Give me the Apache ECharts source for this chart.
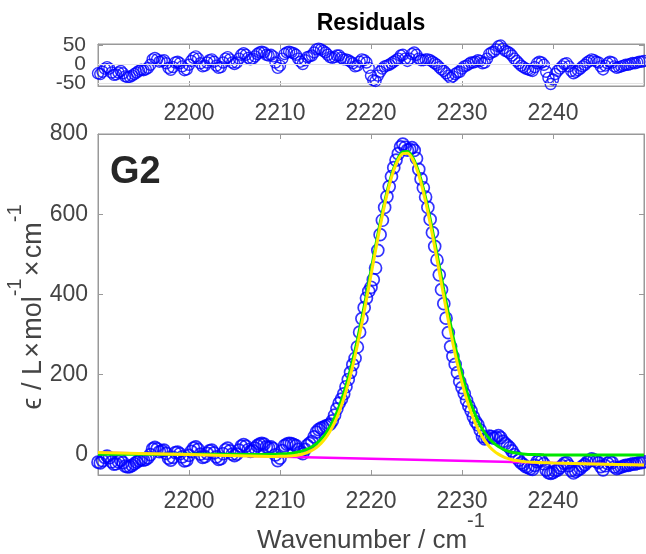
<!DOCTYPE html>
<html><head><meta charset="utf-8">
<script src="https://cdn.jsdelivr.net/npm/echarts@6/dist/echarts.min.js"></script>
<style>html,body{margin:0;padding:0;background:#fff}#c{width:646px;height:554px}</style>
</head><body><div id="c"></div>
<script>
// ---------- data ----------
const xMin = 2190, xMax = 2250;
const xTickValues = [2200, 2210, 2220, 2230, 2240];
const mainYTicks = [0, 200, 400, 600, 800];
const resYTicks = [-50, 0, 50];
const resYOuterLabels = [-50, 50];
const resYMiddleLabels = [0];

// measured points: first wavenumber and spacing of the sampled spectrum
const sampleStart = 2190;
const sampleStep = 0.25;

// absorption data (epsilon), one value per sample
const epsilonData = [
 -18,-20,-14,-6,  -3,-7,-17,-23,  -22,-17,-13,-19,  -28,-30,-29,-26,
 -22,-18,-14,-11, -13,-11,-7,1,   15,19,15,8,       10,12,4,-8,
 -13,-6,6,7,      3,-5,-15,-13,   -1,9,17,20,       14,2,-6,-4,
 4,10,12,5,       -5,-11,-9,3,    13,17,10,2,       -2,2,12,22,
 26,22,13,9,      11,17,23,27,    29,27,20,18,      20,16,0,-14,
 -8,11,23,27,     29,28,26,23,    14,7,3,14,        24,29,33,45,
 57,63,67,69,     72,74,77,85,    99,115,129,139,   152,170,188,206,
 225,241,269,306, 340,367,391,408, 418,437,466,510, 549,585,617,644,
 669,694,716,735, 751,768,775,767, 760,762,766,759, 739,712,688,666,
 643,617,587,554, 520,486,449,412, 377,341,305,270, 246,226,205,183,
 168,153,136,122, 110,95,83,75,   62,46,40,42,      47,46,42,44,
 48,43,34,28,     23,18,10,1,     -6,-13,-20,-24,   -29,-31,-34,-36,
 -26,-17,-13,-15, -22,-38,-44,-46, -44,-40,-38,-32, -27,-21,-19,-27,
 -39,-45,-41,-37, -34,-28,-24,-18, -14,-10,-12,-16, -19,-29,-37,-27,
 -21,-17,-19,-30, -34,-32,-30,-28, -26,-26,-24,-22, -23,-21,-19,-19,
 -17
];

// residuals, one value per sample
const residualData = [
 -24,-26,-20,-12, -8,-12,-22,-28, -27,-22,-18,-24, -32,-34,-33,-30,
 -26,-22,-18,-15, -16,-14,-10,-2, 12,16,12,6,      8,10,2,-10,
 -15,-8,4,6,      2,-6,-16,-14,   -2,8,16,20,       14,2,-6,-4,
 4,10,12,6,       -4,-10,-8,4,    14,18,12,4,       0,4,14,24,
 28,24,16,12,     14,20,26,30,    32,30,24,22,      24,20,4,-10,
 -4,14,26,30,     32,30,28,24,    14,6,0,10,        18,20,22,30,
 38,40,38,34,     30,24,18,16,    18,22,22,16,      12,12,10,6,
 2,-6,-4,6,       12,10,4,-10,    -30,-42,-44,-30,  -20,-12,-6,-4,
 -2,2,6,10,       14,22,24,14,    8,14,26,30,       24,14,10,10,
 12,12,10,6,      2,-2,-8,-14,    -18,-24,-30,-36,  -32,-26,-22,-20,
 -12,-6,-4,0,     4,4,6,10,       8,2,4,14,         26,30,32,38,
 46,48,40,34,     32,28,22,14,    8,2,-4,-8,        -12,-14,-16,-18,
 -8,2,6,4,        -2,-20,-36,-52, -40,-26,-18,-12,  -6,0,2,-6,
 -18,-24,-20,-16, -12,-6,-2,4,    8,12,10,6,        4,-6,-14,-4,
 2,6,4,-6,        -10,-8,-6,-4,   -2,-2,0,3,        2,4,6,6,
 8
];

// fitted curves
const fitX = [2190,2200,2208,2209,2209.5,2210,2210.5,2211,2211.5,2212,2212.5,2213,2213.5,2214,2214.5,2215,2215.5,2216,2216.5,2217,2217.5,2218,2218.5,2219,2219.5,2220,2220.5,2221,2221.5,2222,2222.5,2223,2223.5,2224,2224.5,2225,2225.5,2226,2226.5,2227,2227.5,2228,2228.5,2229,2229.5,2230,2230.5,2231,2231.5,2232,2232.5,2233,2233.5,2234,2234.5,2235,2235.5,2236,2236.5,2237,2237.5,2238,2239,2240,2250];
const yellowFit = [6,0.8,-3.4,-3.6,-3.6,-3.5,-3.3,-2.6,-1.7,0,2.5,6.1,11.4,18.7,28.6,41.7,58.8,80.5,107.2,139.8,178.3,222.7,272.9,328.1,387.1,448.3,509.5,568.8,623.4,671.2,709.5,736.6,751.2,752.2,739.9,714.6,677.8,631.4,577.4,518.3,456.7,394.8,334.8,278.2,226.5,180.2,140.0,105.8,77.3,54.3,35.8,21.3,10.3,2.0,-4.1,-8.6,-11.8,-14.1,-15.7,-16.8,-17.7,-18.4,-19.3,-20.0,-25.2];
const greenFit = [2,1.6,1.3,1.6,1.8,2.2,2.9,3.8,5.1,7.2,10.2,14.4,20.3,28.2,38.9,52.8,70.7,93.0,120.5,153.6,192.4,237.1,287.1,341.7,399.9,459.9,520.0,577.8,631.0,677.4,714.7,741.1,755.4,756.6,744.9,720.8,685.6,640.8,588.6,531.5,471.7,411.5,352.8,297.2,246.2,200.4,160.4,126.1,97.4,74.1,55.3,40.6,29.4,20.9,14.6,10.0,6.8,4.6,2.9,1.9,1.2,0.8,0.3,0,-0.4];
const baselineX = [2190, 2250];
const baselineY = [6, -25.2];

// ---------- build ----------
const FONT = '"Liberation Sans", Arial, Helvetica, sans-serif';
const AX = '#999';
const LBL = '#444';
const pairs = (xs, ys) => xs.map((x, i) => [x, ys[i]]);
const sampled = ys => ys.map((y, i) => [sampleStart + i * sampleStep, y]);
const plain = v => String(v);

function xAx(grid, pos, showLabel, margin) {
  return {
    type: 'value', gridIndex: grid, position: pos, min: xMin, max: xMax, interval: 10,
    axisLine: { show: true, onZero: false, lineStyle: { color: AX, width: 1 } },
    axisTick: { show: true, inside: true, length: 5, lineStyle: { color: AX } },
    axisLabel: { show: showLabel, customValues: xTickValues, formatter: plain, hideOverlap: false,
      fontSize: 23, color: LBL, fontFamily: FONT, margin: margin },
    splitLine: { show: false }
  };
}
function yAx(grid, pos, min, max, ticks, labels, showLabel, fs, margin, showLine) {
  return {
    type: 'value', gridIndex: grid, position: pos, min: min, max: max,
    axisLine: { show: showLine, onZero: false, lineStyle: { color: AX, width: 1 } },
    axisTick: { show: showLine, inside: true, length: 5, customValues: ticks, lineStyle: { color: AX } },
    axisLabel: { show: showLabel, customValues: labels, formatter: plain, hideOverlap: false,
      showMinLabel: true, showMaxLabel: true,
      fontSize: fs, color: LBL, fontFamily: FONT, margin: margin },
    splitLine: { show: false }
  };
}

const option = {
  animation: false,
  backgroundColor: '#fff',
  grid: [
    { left: 98, top: 44, width: 546, height: 42, show: true, borderColor: AX, borderWidth: 1, backgroundColor: '#fff' },
    { left: 98, top: 134, width: 546, height: 341, show: true, borderColor: AX, borderWidth: 1, backgroundColor: '#fff' }
  ],
  xAxis: [
    xAx(0, 'bottom', true, 16),
    xAx(0, 'top', false, 8),
    xAx(1, 'bottom', true, 15),
    xAx(1, 'top', false, 8)
  ],
  yAxis: [
    yAx(0, 'left', -57, 52, resYTicks, resYOuterLabels, true, 21, 12, true),
    yAx(0, 'right', -57, 52, resYTicks, resYTicks, false, 21, 8, true),
    yAx(1, 'left', -50, 800, mainYTicks, mainYTicks, true, 23, 10, true),
    yAx(1, 'right', -50, 800, mainYTicks, mainYTicks, false, 23, 8, true),
    yAx(0, 'left', -57, 52, resYTicks, resYMiddleLabels, true, 21, 12, false)
  ],
  series: [
    {
      type: 'line', xAxisIndex: 0, yAxisIndex: 0, data: [], z: 1, silent: true,
      markLine: {
        silent: true, symbol: ['none', 'none'], label: { show: false },
        lineStyle: { color: '#e3e3e3', width: 1, type: 'solid' },
        data: [{ yAxis: 0 }, { yAxis: -50 }]
      }
    },
    {
      type: 'scatter', xAxisIndex: 0, yAxisIndex: 0, z: 3,
      symbol: 'circle', symbolSize: 11,
      itemStyle: { color: 'rgba(0,0,0,0)', borderColor: '#0000ff', borderWidth: 1.4 },
      data: sampled(residualData)
    },
    {
      type: 'scatter', xAxisIndex: 2, yAxisIndex: 2, z: 3,
      symbol: 'circle', symbolSize: 12,
      itemStyle: { color: 'rgba(0,0,0,0)', borderColor: '#0000ff', borderWidth: 1.7 },
      data: sampled(epsilonData)
    },
    {
      type: 'line', xAxisIndex: 2, yAxisIndex: 2, z: 4, showSymbol: false, symbol: 'none',
      lineStyle: { color: '#ff00ff', width: 2.5 }, data: pairs(baselineX, baselineY)
    },
    {
      type: 'line', xAxisIndex: 2, yAxisIndex: 2, z: 5, showSymbol: false, symbol: 'none', smooth: 0.3,
      lineStyle: { color: '#00e600', width: 3 }, data: pairs(fitX, greenFit)
    },
    {
      type: 'line', xAxisIndex: 2, yAxisIndex: 2, z: 6, showSymbol: false, symbol: 'none', smooth: 0.3,
      lineStyle: { color: '#ffe600', width: 3 }, data: pairs(fitX, yellowFit)
    }
  ],
  graphic: [
    { type: 'text', x: 371, y: 24, z: 100,
      style: { text: 'Residuals', fontSize: 23, fontWeight: 'bold', fontFamily: FONT, fill: '#000', align: 'center', verticalAlign: 'middle' } },
    { type: 'text', x: 110, y: 173, z: 100,
      style: { text: 'G2', fontSize: 38, fontWeight: 'bold', fontFamily: FONT, fill: '#262626', align: 'left', verticalAlign: 'middle' } },
    { type: 'text', x: 371, y: 541, z: 100,
      style: { text: '{a|Wavenumber / cm}{s|-1}', align: 'center', verticalAlign: 'middle',
        rich: { a: { fontSize: 26, lineHeight: 59, fontFamily: FONT, fill: LBL },
                s: { fontSize: 20, verticalAlign: 'top', fontFamily: FONT, fill: LBL } } } },
    { type: 'text', x: 34, y: 307, z: 100, rotation: Math.PI / 2,
      style: { text: '{a|\u03F5 / L\u200A\u00D7\u200Amol}{s|-1}{a|\u200A\u00D7\u200Acm}{s|-1}', align: 'center', verticalAlign: 'middle',
        rich: { a: { fontSize: 27, lineHeight: 58, fontFamily: FONT + ', "DejaVu Sans"', fill: LBL },
                s: { fontSize: 20, verticalAlign: 'top', fontFamily: FONT, fill: LBL } } } }
  ]
};

const chart = echarts.init(document.getElementById('c'), null, { renderer: 'canvas' });
chart.setOption(option);
</script>
</body></html>
